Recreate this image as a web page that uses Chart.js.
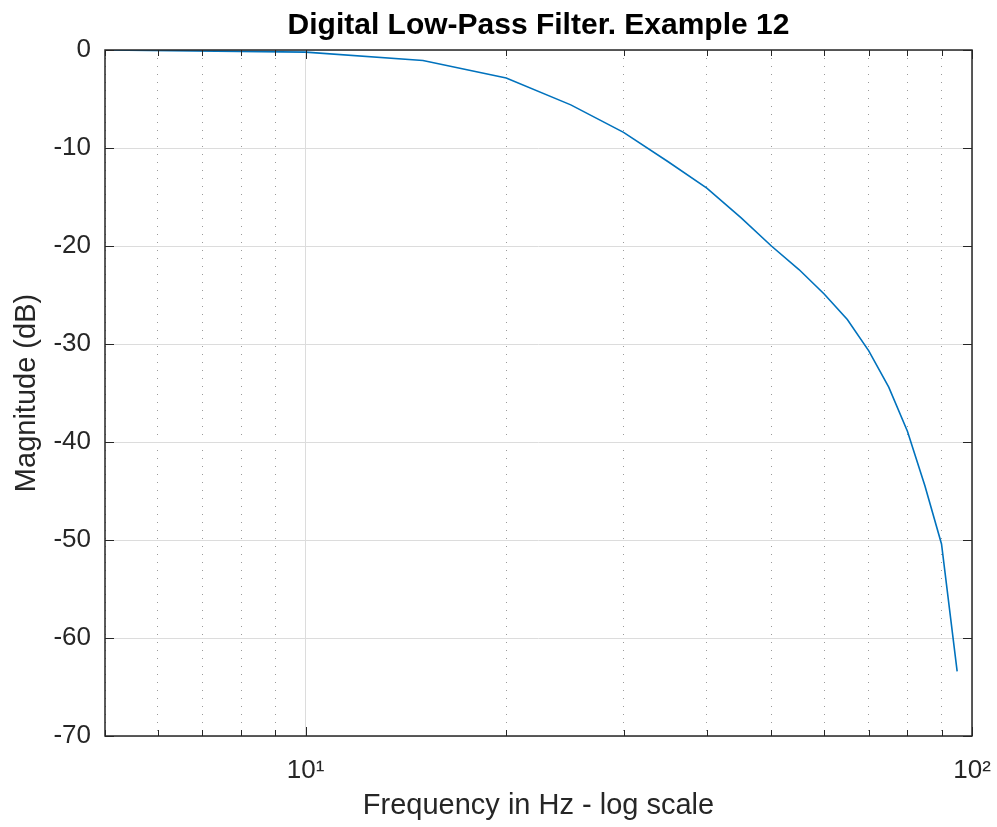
<!DOCTYPE html>
<html>
<head>
<meta charset="utf-8">
<script src="https://cdn.jsdelivr.net/npm/chart.js@4.4.0/dist/chart.umd.min.js"></script>
<style>
  html, body { margin: 0; padding: 0; background: #fff; }
  #wrap { width: 997px; height: 827px; }
</style>
</head>
<body>
<div id="wrap"><canvas id="filter-chart" width="997" height="827"></canvas></div>
<script>
// frequency samples (Hz) and magnitude response (dB)
const freqs = [5, 10, 15, 20, 25, 30, 35, 40, 45, 50, 55, 60, 65, 70, 75, 80, 85, 90, 95];
const magnitudes = [0, -0.22, -1.07, -2.85, -5.6, -8.4, -11.4, -14.1, -17.1, -20.0, -22.4, -24.9, -27.5, -30.7, -34.4, -38.9, -44.5, -50.4, -63.4];

// axis ticks
const xTicks = [5, 6, 7, 8, 9, 10, 20, 30, 40, 50, 60, 70, 80, 90, 100];
const xMajor = [10, 100];
const xLabels = { 10: "10\u00b9", 100: "10\u00b2" };
const yTicks = [0, -10, -20, -30, -40, -50, -60, -70];

const FONT = "'Liberation Sans', Arial, Helvetica, sans-serif";
const TEXT = "#262626";

// MATLAB style box with ticks pointing inwards
const boxPlugin = {
  id: "matlabBox",
  afterDatasetsDraw(chart) {
    const { ctx, chartArea: a, scales } = chart;
    ctx.save();
    ctx.strokeStyle = TEXT;
    ctx.lineWidth = 1;
    ctx.beginPath();
    xTicks.forEach(v => {
      const px = Math.round(scales.x.getPixelForValue(v)) + 0.5;
      const len = xMajor.includes(v) ? 9 : 6;
      ctx.moveTo(px, a.bottom); ctx.lineTo(px, a.bottom - len);
      ctx.moveTo(px, a.top); ctx.lineTo(px, a.top + len);
    });
    yTicks.forEach(v => {
      const py = Math.round(scales.y.getPixelForValue(v)) + 0.5;
      ctx.moveTo(a.left, py); ctx.lineTo(a.left + 9, py);
      ctx.moveTo(a.right, py); ctx.lineTo(a.right - 9, py);
    });
    ctx.stroke();
    ctx.lineWidth = 1.5;
    ctx.strokeRect(a.left, a.top, a.right - a.left, a.bottom - a.top);
    ctx.restore();
  }
};

const config = {
  type: "line",
  data: {
    datasets: [
      {
        label: "Magnitude",
        data: freqs.map((f, i) => ({ x: f, y: magnitudes[i] })),
        borderColor: "#0072BD",
        backgroundColor: "#0072BD",
        borderWidth: 1.6,
        pointRadius: 0,
        tension: 0,
        fill: false,
      },
    ],
  },
  options: {
    responsive: false,
    animation: false,
    layout: { padding: { left: 0, right: 25, top: 0, bottom: 0 } },
    plugins: {
      legend: { display: false },
      tooltip: { enabled: false },
      title: {
        display: true,
        fullSize: false,
        text: "Digital Low-Pass Filter. Example 12",
        color: "#000",
        font: { family: FONT, size: 30, weight: "bold", lineHeight: 1 },
        padding: { top: 11, bottom: 9 },
      },
    },
    scales: {
      x: {
        type: "logarithmic",
        min: 5,
        max: 100,
        afterBuildTicks: (scale) => {
          scale.ticks = xTicks.map(v => ({ value: v, major: xMajor.includes(v) }));
        },
        afterFit: (scale) => {
          scale.height = 91;
          scale.paddingLeft = 0;
          scale.paddingRight = 0;
        },
        border: {
          display: false,
          dash: (ctx) => (ctx.tick && xMajor.includes(ctx.tick.value) ? [] : [1, 7]),
        },
        grid: {
          drawTicks: false,
          color: (ctx) => (ctx.tick && xMajor.includes(ctx.tick.value) ? "#dcdcdc" : "#9a9a9a"),
          lineWidth: 1,
        },
        ticks: {
          autoSkip: false,
          maxRotation: 0,
          padding: 19,
          color: TEXT,
          font: { family: FONT, size: 26 },
          callback: (value) => xLabels[value] || "",
        },
        title: {
          display: true,
          text: "Frequency in Hz - log scale",
          color: TEXT,
          font: { family: FONT, size: 29 },
          padding: 4,
        },
      },
      y: {
        min: -70,
        max: 0,
        afterBuildTicks: (scale) => {
          scale.ticks = yTicks.map(v => ({ value: v }));
        },
        afterFit: (scale) => { scale.width = 105; },
        border: { display: false },
        grid: {
          drawTicks: false,
          color: "#dcdcdc",
          lineWidth: 1,
        },
        ticks: {
          padding: 14,
          color: TEXT,
          font: { family: FONT, size: 26 },
        },
        title: {
          display: true,
          text: "Magnitude (dB)",
          color: TEXT,
          font: { family: FONT, size: 29 },
          padding: 10,
        },
      },
    },
  },
  plugins: [boxPlugin],
};

const ctx = document.getElementById("filter-chart").getContext("2d");
const filterChart = new Chart(ctx, config);
</script>
</body>
</html>
